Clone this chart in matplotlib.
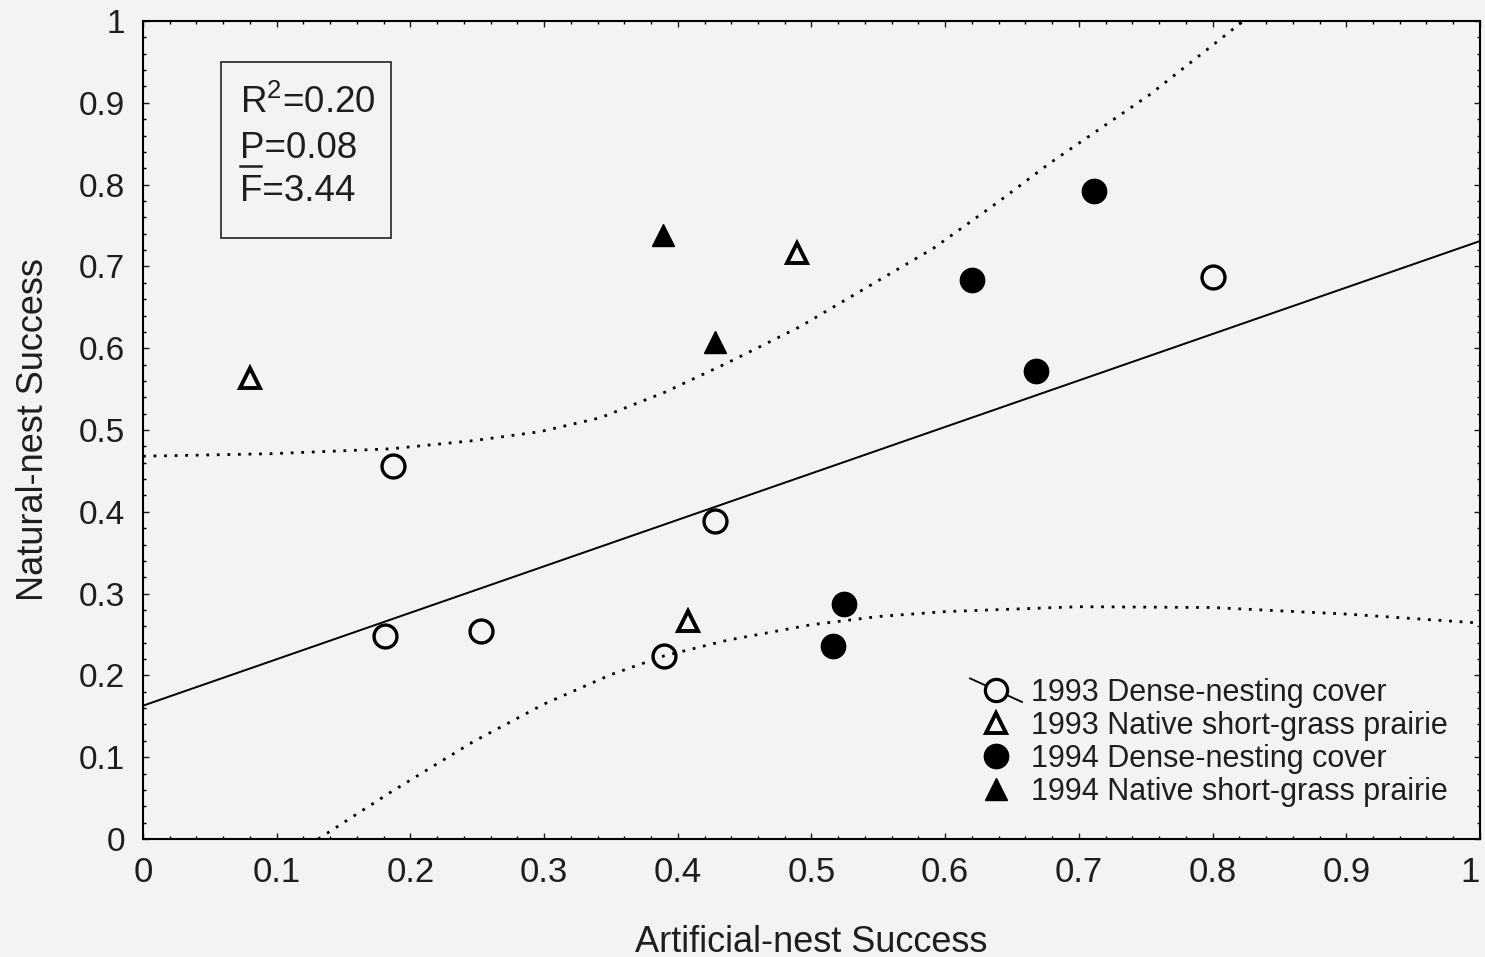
import matplotlib
matplotlib.use("Agg")
import matplotlib.pyplot as plt
from matplotlib.lines import Line2D
from matplotlib.legend_handler import HandlerBase
from matplotlib.patches import Rectangle
from matplotlib.ticker import MultipleLocator

plt.rcParams["font.family"] = ["Liberation Sans", "DejaVu Sans"]
plt.rcParams["mathtext.fontset"] = "custom"
plt.rcParams["mathtext.rm"] = "Liberation Sans"

BG = "#f3f3f3"
INK = "#1e1e1e"

# 1993 dense-nesting cover (open circles)
dnc93_x = [0.181, 0.187, 0.253, 0.390, 0.428, 0.800]
dnc93_y = [0.248, 0.456, 0.254, 0.224, 0.389, 0.687]
# 1993 native short-grass prairie (open triangles)
nsg93_x = [0.080, 0.408, 0.489]
nsg93_y = [0.564, 0.267, 0.716]
# 1994 dense-nesting cover (filled circles)
dnc94_x = [0.524, 0.516, 0.620, 0.668, 0.711]
dnc94_y = [0.287, 0.236, 0.683, 0.572, 0.792]
# 1994 native short-grass prairie (filled triangles)
nsg94_x = [0.389, 0.428]
nsg94_y = [0.738, 0.608]

# regression line as drawn
fit_x = [0.0, 1.0]
fit_y = [0.163, 0.731]

# confidence bands
upper_x = [0.0, 0.095, 0.185, 0.247, 0.297, 0.342, 0.390, 0.437, 0.491,
           0.542, 0.591, 0.639, 0.678, 0.753, 0.823]
upper_y = [0.468, 0.471, 0.477, 0.487, 0.498, 0.515, 0.546, 0.582, 0.626,
           0.675, 0.722, 0.778, 0.826, 0.910, 1.000]
lower_x = [0.131, 0.185, 0.247, 0.300, 0.350, 0.390, 0.437, 0.500, 0.550,
           0.600, 0.700, 0.800, 0.900, 1.000]
lower_y = [0.000, 0.057, 0.119, 0.165, 0.201, 0.224, 0.243, 0.262, 0.272,
           0.278, 0.284, 0.283, 0.275, 0.264]

tick_vals = [0, 0.1, 0.2, 0.3, 0.4, 0.5, 0.6, 0.7, 0.8, 0.9, 1]
tick_labels = ["0", "0.1", "0.2", "0.3", "0.4", "0.5", "0.6", "0.7", "0.8", "0.9", "1"]

legend_labels = ["1993 Dense-nesting cover", "1993 Native short-grass prairie",
                 "1994 Dense-nesting cover", "1994 Native short-grass prairie"]


class CircleWithLine(HandlerBase):
    """Legend key: open circle crossed by a short diagonal line."""

    def create_artists(self, legend, orig_handle, xdescent, ydescent,
                       width, height, fontsize, trans):
        cy = height / 2 - ydescent
        cx = width / 2 - xdescent
        line = Line2D([-xdescent, width - xdescent], [cy + 8.5, cy - 8.5],
                      color="black", lw=1.3, transform=trans)
        mark = Line2D([cx], [cy], marker="o", ms=16, mfc=BG, mec="black",
                      mew=2.3, ls="none", transform=trans)
        return [line, mark]


fig = plt.figure(figsize=(14.85, 9.57), dpi=100, facecolor=BG)
ax = fig.add_axes([0.0963, 0.1233, 0.9003, 0.8547], facecolor=BG)

band_style = dict(color="black", lw=2.0, ls=(0, (1.0, 2.8)), zorder=2)
ax.plot(upper_x, upper_y, **band_style)
ax.plot(lower_x, lower_y, **band_style)
ax.plot(fit_x, fit_y, color="black", lw=1.4, zorder=2)

h1, = ax.plot(dnc93_x, dnc93_y, "o", ms=16.5, mfc="none", mec="black", mew=2.4, zorder=3)
h2, = ax.plot(nsg93_x, nsg93_y, "^", ms=15, mfc="none", mec="black", mew=2.8, zorder=3)
h3, = ax.plot(dnc94_x, dnc94_y, "o", ms=17.5, color="black", zorder=3)
h4, = ax.plot(nsg94_x, nsg94_y, "^", ms=16, color="black", zorder=3)

ax.set_xlim(0, 1)
ax.set_ylim(0, 1)
ax.set_xticks(tick_vals)
ax.set_xticklabels(tick_labels)
ax.set_yticks(tick_vals)
ax.set_yticklabels(tick_labels)
ax.xaxis.set_minor_locator(MultipleLocator(0.02))
ax.yaxis.set_minor_locator(MultipleLocator(0.02))
ax.tick_params(which="both", direction="in", top=True, right=True, width=1.0)
ax.tick_params(which="major", length=4)
ax.tick_params(which="minor", length=2.5)
ax.tick_params(axis="x", labelsize=25, pad=12, colors=INK)
ax.tick_params(axis="y", labelsize=24, pad=13, colors=INK)
ax.get_xticklabels()[-1].set_horizontalalignment("right")
for s in ax.spines.values():
    s.set_linewidth(1.5)

ax.set_xlabel("Artificial-nest Success", fontsize=26, labelpad=26, color=INK)
ax.set_ylabel("Natural-nest Success", fontsize=26, labelpad=20, color=INK)

# statistics box
ax.add_patch(Rectangle((0.0583, 0.735), 0.1272, 0.215, transform=ax.transAxes,
                       fill=False, ec="#333333", lw=1.3))
ax.text(0.0725, 0.8875, r"R$^\mathrm{2}$=0.20", transform=ax.transAxes,
        fontsize=26.5, va="baseline", color=INK)
ax.text(0.0725, 0.8325, "P=0.08", transform=ax.transAxes,
        fontsize=26.5, va="baseline", color=INK)
ax.plot([0.0725, 0.0885], [0.8225, 0.8225], transform=ax.transAxes,
        color=INK, lw=1.8, clip_on=False)
ax.text(0.0725, 0.7805, "F=3.44", transform=ax.transAxes,
        fontsize=26.5, va="baseline", color=INK)

ax.legend([h1, h2, h3, h4], legend_labels, loc="upper left",
          bbox_to_anchor=(0.6186, 0.197), frameon=False, fontsize=22,
          handlelength=1.7, handletextpad=0.3, labelspacing=0.1,
          borderpad=0, borderaxespad=0, labelcolor=INK,
          handler_map={h1: CircleWithLine()})

fig.savefig("out.png", dpi=100, facecolor=BG)
